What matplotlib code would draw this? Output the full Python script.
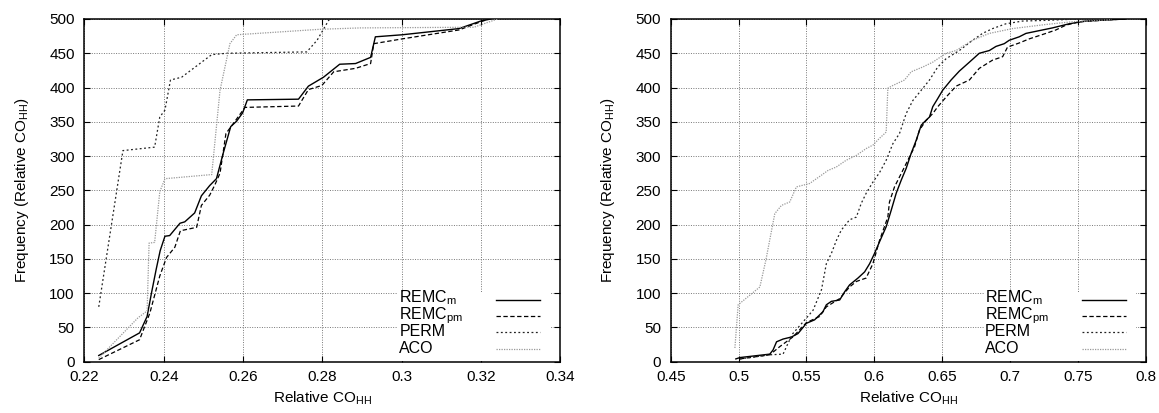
import matplotlib
matplotlib.use("Agg")
import matplotlib.pyplot as plt
from matplotlib.patches import Rectangle
from matplotlib.ticker import FormatStrFormatter, MultipleLocator

plt.rcParams['font.family'] = ['Liberation Sans', 'DejaVu Sans']
plt.rcParams['mathtext.fontset'] = 'custom'
plt.rcParams['mathtext.rm'] = 'Liberation Sans'
plt.rcParams['mathtext.it'] = 'Liberation Sans:italic'
plt.rcParams['mathtext.bf'] = 'Liberation Sans:bold'
plt.rcParams['font.size'] = 11

# left panel data
remc_m_x = [0.2236, 0.2339, 0.2358, 0.2369, 0.2381, 0.2391, 0.2403, 0.2415, 0.2441, 0.2453,
            0.2478, 0.2495, 0.2516, 0.2533, 0.2550, 0.2569, 0.2584, 0.2599, 0.2611, 0.2740,
            0.2765, 0.2803, 0.2844, 0.2884, 0.2922, 0.2934, 0.3002, 0.3145, 0.3200, 0.3225]
remc_m_y = [9, 42, 66, 100, 135, 162, 183, 184, 202, 204,
            217, 242, 257, 267, 304, 343, 351, 363, 382, 383,
            402, 415, 434, 435, 444, 474, 477, 486, 497, 500]

remc_pm_x = [0.2236, 0.2339, 0.2365, 0.2390, 0.2407, 0.2428, 0.2442, 0.2483, 0.2495, 0.2516,
             0.2529, 0.2542, 0.2557, 0.2575, 0.2605, 0.2740, 0.2765, 0.2799, 0.2829, 0.2884,
             0.2922, 0.2930, 0.3002, 0.3145, 0.3200, 0.3221]
remc_pm_y = [3, 32, 71, 125, 152, 167, 191, 196, 228, 243,
             258, 275, 333, 347, 371, 373, 397, 403, 423, 428,
             435, 464, 471, 484, 496, 500]

perm_x = [0.2236, 0.2297, 0.2377, 0.2390, 0.2403, 0.2417, 0.2445, 0.2521, 0.2559, 0.2761,
          0.2787, 0.2816, 0.2820]
perm_y = [80, 308, 313, 357, 367, 411, 415, 448, 450, 452,
          469, 498, 500]

aco_x = [0.2236, 0.2335, 0.2358, 0.2363, 0.2377, 0.2390, 0.2403, 0.2521, 0.2542, 0.2567,
         0.2584, 0.2795, 0.2896, 0.3183, 0.3242]
aco_y = [5, 64, 74, 173, 174, 248, 267, 273, 396, 464,
         477, 485, 487, 488, 500]

# right panel data
remc_m2_x = [0.498, 0.501, 0.523, 0.5254, 0.528, 0.5328, 0.539, 0.5438, 0.550, 0.556,
             0.5622, 0.5647, 0.5684, 0.5745, 0.5782, 0.5818, 0.588, 0.5929, 0.5966, 0.6002,
             0.6039, 0.6088, 0.6125, 0.6162, 0.6199, 0.6235, 0.6272, 0.6309, 0.6346, 0.637,
             0.6407, 0.6431, 0.6468, 0.6504, 0.6566, 0.6627, 0.6701, 0.6774, 0.6848, 0.6897,
             0.6958, 0.6995, 0.7068, 0.7118, 0.7191, 0.7313, 0.7436, 0.7559, 0.7754, 0.785]
remc_m2_y = [4, 6, 11, 17, 29, 33, 36, 41, 56, 61,
             73, 83, 88, 90, 102, 112, 122, 131, 143, 158,
             175, 197, 221, 246, 265, 282, 304, 323, 345, 350,
             357, 372, 384, 396, 411, 424, 437, 450, 454, 460,
             464, 469, 474, 479, 482, 487, 493, 497, 499, 500]

remc_pm2_x = [0.501, 0.523, 0.5304, 0.540, 0.550, 0.5598, 0.5647, 0.5745, 0.5818, 0.5868,
              0.594, 0.599, 0.6039, 0.610, 0.6112, 0.6149, 0.621, 0.626, 0.6296, 0.6333,
              0.6382, 0.6431, 0.6468, 0.6529, 0.6603, 0.6701, 0.6774, 0.6872, 0.6946, 0.6982,
              0.7068, 0.7142, 0.7265, 0.7338, 0.7412, 0.751, 0.775, 0.785]
remc_pm2_y = [4, 10, 22, 36, 57, 66, 80, 92, 109, 117,
              122, 143, 177, 211, 233, 255, 279, 299, 313, 338,
              352, 362, 372, 386, 402, 411, 428, 440, 445, 459,
              465, 471, 479, 484, 491, 496, 499, 500]

perm2_x = [0.501, 0.523, 0.5328, 0.5365, 0.540, 0.5475, 0.5549, 0.5611, 0.5647, 0.5684,
           0.5721, 0.5757, 0.5818, 0.5868, 0.5904, 0.5941, 0.599, 0.6039, 0.6088, 0.6137,
           0.6186, 0.6235, 0.6284, 0.6346, 0.6407, 0.6468, 0.6529, 0.6627, 0.6725, 0.6798,
           0.6872, 0.697, 0.7093, 0.7265, 0.751]
perm2_y = [4, 10, 11, 27, 41, 58, 75, 105, 143, 158,
           177, 192, 207, 211, 231, 246, 262, 276, 294, 318,
           333, 362, 381, 396, 411, 430, 442, 454, 469, 479,
           486, 493, 497, 498, 500]

aco2_x = [0.4973, 0.4997, 0.5157, 0.5201, 0.5267, 0.5316, 0.5377, 0.5426, 0.5524, 0.561,
          0.5659, 0.572, 0.5794, 0.5868, 0.5941, 0.599, 0.6039, 0.6088, 0.6100, 0.6137,
          0.6223, 0.6272, 0.6358, 0.6431, 0.6529, 0.6603, 0.6725, 0.6848, 0.7019, 0.7265,
          0.746, 0.775]
aco2_y = [20, 83, 109, 148, 216, 228, 233, 255, 260, 272,
          279, 284, 294, 301, 311, 316, 326, 335, 399, 403,
          411, 423, 430, 437, 450, 454, 469, 479, 486, 492,
          496, 499]

labels = [r'REMC$_\mathrm{m}$', r'REMC$_\mathrm{pm}$', 'PERM', 'ACO']
styles = [
    dict(color='black', linestyle='-', linewidth=1.0),
    dict(color='black', linestyle=(0, (3.5, 2)), linewidth=0.9),
    dict(color='#222222', linestyle=(0, (1.5, 2)), linewidth=0.9),
    dict(color='#999999', linestyle=(0, (1, 1)), linewidth=0.9),
]

fig = plt.figure(figsize=(11.59, 4.13), dpi=100)
ax1 = fig.add_axes([0.0729, 0.1243, 0.4103, 0.8297])
ax2 = fig.add_axes([0.5787, 0.1243, 0.4098, 0.8297])


def draw_panel(ax, series, xlim, xstep):
    for (xs, ys), st in zip(series, styles):
        ax.plot(xs, ys, zorder=3, **st)
    ax.set_xlim(*xlim)
    ax.set_ylim(0, 500)
    ax.xaxis.set_major_locator(MultipleLocator(xstep))
    ax.yaxis.set_major_locator(MultipleLocator(50))
    ax.xaxis.set_major_formatter(FormatStrFormatter('%g'))
    ax.set_axisbelow(True)
    ax.grid(True, color='#777777', linestyle=(0, (1, 1.5)), linewidth=0.7)
    ax.tick_params(direction='in', top=True, right=True, length=4, width=0.8,
                   labelsize=11)
    ax.tick_params(axis='x', pad=6)
    ax.tick_params(axis='y', pad=7)
    for sp in ax.spines.values():
        sp.set_linewidth(1.1)
    ax.set_xlabel(r'Relative CO$_\mathrm{HH}$', fontsize=11, labelpad=4)
    ax.set_ylabel(r'Frequency (Relative CO$_\mathrm{HH}$)', fontsize=11, labelpad=13)

    # gnuplot-style key: opaque box, text left, sample right
    ax.add_patch(Rectangle((0.659, 0.003), 0.32, 0.200, transform=ax.transAxes,
                           facecolor='white', edgecolor='none', zorder=1))
    text_y = [0.172, 0.124, 0.075, 0.0245]
    line_y = [0.180, 0.133, 0.0867, 0.037]
    for lab, ty, ly, st in zip(labels, text_y, line_y, styles):
        ax.text(0.662, ty, lab, transform=ax.transAxes, fontsize=11.5,
                va='baseline', ha='left', zorder=4)
        ax.plot([0.865, 0.958], [ly, ly], transform=ax.transAxes, zorder=4, **st)


draw_panel(ax1, [(remc_m_x, remc_m_y), (remc_pm_x, remc_pm_y),
                 (perm_x, perm_y), (aco_x, aco_y)], (0.22, 0.34), 0.02)
draw_panel(ax2, [(remc_m2_x, remc_m2_y), (remc_pm2_x, remc_pm2_y),
                 (perm2_x, perm2_y), (aco2_x, aco2_y)], (0.45, 0.8), 0.05)

fig.savefig('out.png', dpi=100)
